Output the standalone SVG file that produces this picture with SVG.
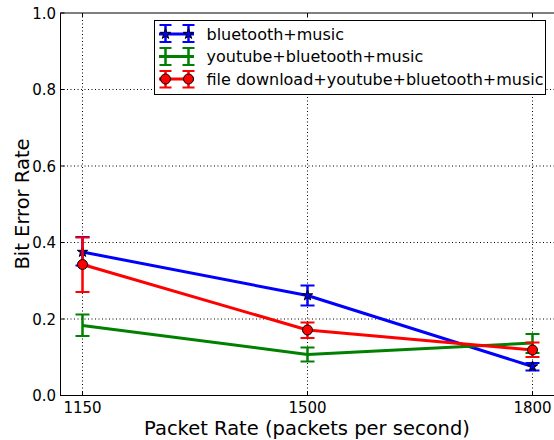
<svg xmlns="http://www.w3.org/2000/svg" width="554" height="440" viewBox="0 0 554 440">
<style>
text{font-family:"DejaVu Sans","Liberation Sans",sans-serif;fill:#000}
.tick{font-size:15px}
.lab{font-size:19.5px}
.leg{font-size:16px}
.grid{stroke:#000;stroke-width:1;stroke-dasharray:1 2.5;fill:none}
.spine{stroke:#000;stroke-width:1;fill:none}
.tk{stroke:#000;stroke-width:1}
.ln{fill:none;stroke-width:3;stroke-linejoin:round}
.eb{stroke-width:2.5}
.cap{stroke-width:2}
.b{stroke:#0000ff}
.g{stroke:#008000}
.r{stroke:#ff0000}
.star{fill:#0000ff;stroke:#000;stroke-width:1}
.dot{fill:#ff0000;stroke:#000;stroke-width:1}
</style>
<defs>
<path id="star" d="M0,-5.5 L1.234,-1.699 L5.231,-1.7 L1.997,0.649 L3.233,4.45 L0,2.1 L-3.233,4.45 L-1.997,0.649 L-5.231,-1.7 L-1.234,-1.699 Z"/>
</defs>
<rect x="0" y="0" width="554" height="440" fill="#fff"/>
<g id="grid">
<line class="grid" x1="60" y1="319" x2="556" y2="319"/>
<line class="grid" x1="60" y1="242.5" x2="556" y2="242.5"/>
<line class="grid" x1="60" y1="166" x2="556" y2="166"/>
<line class="grid" x1="60" y1="89.5" x2="556" y2="89.5"/>
<line class="grid" x1="82.5" y1="13" x2="82.5" y2="395.5"/>
<line class="grid" x1="307.5" y1="13" x2="307.5" y2="395.5"/>
<line class="grid" x1="532.5" y1="13" x2="532.5" y2="395.5"/>
</g>
<g id="axes">
<rect class="spine" x="60.5" y="13" width="496" height="382.5"/>
<path class="tk" d="M60.5,395.5h4M60.5,319h4M60.5,242.5h4M60.5,166h4M60.5,89.5h4M60.5,13h4M82.5,395.5v-4M307.5,395.5v-4M532.5,395.5v-4M82.5,13v4M307.5,13v4M532.5,13v4"/>
<text class="tick" x="56" y="401" text-anchor="end">0.0</text>
<text class="tick" x="56" y="324.5" text-anchor="end">0.2</text>
<text class="tick" x="56" y="248" text-anchor="end">0.4</text>
<text class="tick" x="56" y="171.5" text-anchor="end">0.6</text>
<text class="tick" x="56" y="95" text-anchor="end">0.8</text>
<text class="tick" x="56" y="18.5" text-anchor="end">1.0</text>
<text class="tick" x="82.5" y="413" text-anchor="middle">1150</text>
<text class="tick" x="307.5" y="413" text-anchor="middle">1500</text>
<text class="tick" x="532.5" y="413" text-anchor="middle">1800</text>
<text class="lab" x="307" y="435" text-anchor="middle">Packet Rate (packets per second)</text>
<text class="lab" transform="translate(29,204) rotate(-90)" text-anchor="middle">Bit Error Rate</text>
</g>
<g id="connectors">
<g id="series-blue">
<polyline class="ln b" points="82.5,252 307.5,295.5 532.5,366.5"/>
<path class="eb b" d="M82.5,237v28.5M307.5,285.5v20M532.5,363v7.5"/>
<path class="cap b" d="M75.5,237h14M75.5,265.5h14M300.5,285.5h14M300.5,305.5h14M525.5,363h14M525.5,370.5h14"/>
<use href="#star" class="star" x="82.5" y="252"/>
<use href="#star" class="star" x="307.5" y="295.5"/>
<use href="#star" class="star" x="532.5" y="366.5"/>
</g>
<g id="series-green">
<polyline class="ln g" points="82.5,325.5 307.5,354.5 532.5,343"/>
<path class="eb g" d="M82.5,314.5v21.5M307.5,347.5v14M532.5,334v19"/>
<path class="cap g" d="M75.5,314.5h14M75.5,336h14M300.5,347.5h14M300.5,361.5h14M525.5,334h14M525.5,353h14"/>
</g>
<g id="series-red">
<polyline class="ln r" points="82.5,264.5 307.5,330 532.5,350"/>
<path class="eb r" d="M82.5,237.5v54.5M307.5,322.5v15.5M532.5,342.5v14.5"/>
<path class="cap r" d="M75.5,237.5h14M75.5,292h14M300.5,322.5h14M300.5,338h14M525.5,342.5h14M525.5,357h14"/>
<circle class="dot" cx="82.5" cy="264.5" r="5"/>
<circle class="dot" cx="307.5" cy="330" r="5"/>
<circle class="dot" cx="532.5" cy="350" r="5"/>
</g>
</g>
<g id="legend">
<rect x="154.5" y="20.5" width="391" height="74" fill="#fff" stroke="#000" stroke-width="1"/>
<g id="leg-blue">
<line class="ln b" x1="159" y1="34" x2="194" y2="34"/>
<path class="eb b" d="M165.5,25v17M188.5,25v17"/>
<path class="cap b" d="M159.5,25h12M159.5,42h12M182.5,25h12M182.5,42h12"/>
<use href="#star" class="star" x="165.5" y="34"/>
<use href="#star" class="star" x="188.5" y="34"/>
<text class="leg" x="206.5" y="39.8">bluetooth+music</text>
</g>
<g id="leg-green">
<line class="ln g" x1="159" y1="56.5" x2="194" y2="56.5"/>
<path class="eb g" d="M165.5,48v17M188.5,48v17"/>
<path class="cap g" d="M159.5,48h12M159.5,65h12M182.5,48h12M182.5,65h12"/>
<text class="leg" x="206.5" y="62.3">youtube+bluetooth+music</text>
</g>
<g id="leg-red">
<line class="ln r" x1="159" y1="79" x2="194" y2="79"/>
<path class="eb r" d="M165.5,71v16.5M188.5,71v16.5"/>
<path class="cap r" d="M159.5,71h12M159.5,87.5h12M182.5,71h12M182.5,87.5h12"/>
<circle class="dot" cx="165.5" cy="79" r="5"/>
<circle class="dot" cx="188.5" cy="79" r="5"/>
<text class="leg" x="206.5" y="84.8">file download+youtube+bluetooth+music</text>
</g>
</g>
</svg>
